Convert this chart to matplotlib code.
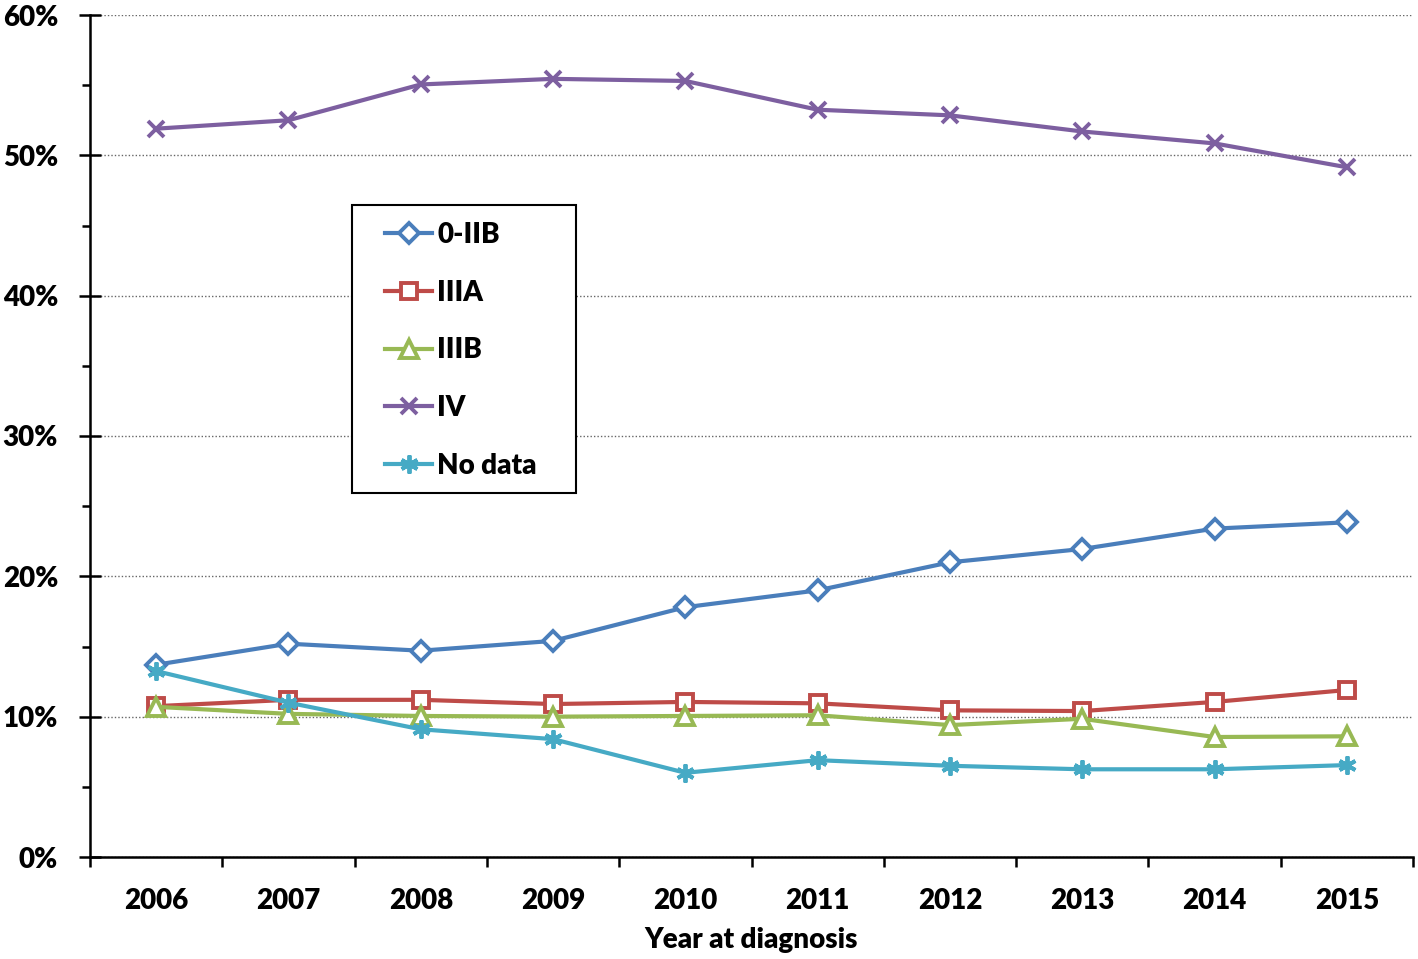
import matplotlib
matplotlib.use("Agg")
import matplotlib.pyplot as plt
from matplotlib.patches import Rectangle
from matplotlib.ticker import FuncFormatter, FixedLocator, MultipleLocator

plt.rcParams['font.family'] = ['Lato', 'DejaVu Sans']
plt.rcParams['font.weight'] = 'heavy'

years = ['2006', '2007', '2008', '2009', '2010', '2011', '2012', '2013', '2014', '2015']
stage_0_iib = [13.7, 15.2, 14.7, 15.4, 17.8, 19.0, 21.0, 21.95, 23.4, 23.85]
stage_iiia = [10.75, 11.2, 11.2, 10.9, 11.05, 10.95, 10.45, 10.4, 11.05, 11.9]
stage_iiib = [10.7, 10.2, 10.05, 10.0, 10.05, 10.1, 9.4, 9.85, 8.55, 8.6]
stage_iv = [51.9, 52.5, 55.05, 55.45, 55.3, 53.25, 52.85, 51.7, 50.85, 49.15]
no_data = [13.25, 11.0, 9.1, 8.4, 6.0, 6.9, 6.5, 6.25, 6.25, 6.55]

series = [
    ("0-IIB", stage_0_iib, '#4A7EBB', 'D', 10.5),
    ("IIIA", stage_iiia, '#BE4B48', 's', 11.5),
    ("IIIB", stage_iiib, '#98B954', '^', 12.5),
    ("IV", stage_iv, '#7D5FA0', 'x', 11.5),
    ("No data", no_data, '#46AAC5', (6, 2, 0), 13),
]

W, H = 1418, 959
fig = plt.figure(figsize=(W / 100, H / 100), dpi=100)
ax = fig.add_axes((90 / W, 1 - 857 / H, 1323 / W, 842 / H))

x = range(len(years))
for name, vals, col, mk, ms in series:
    filled = mk in ('x', (6, 2, 0))
    ax.plot(x, vals, color=col, lw=3.0, marker=mk, markersize=ms,
            markerfacecolor=col if filled else 'white', markeredgecolor=col,
            markeredgewidth=2.8, label=name, zorder=3)

ax.set_ylim(0, 60)
ax.set_xlim(-0.5, 9.5)
ax.set_yticks(range(0, 61, 10))
ax.yaxis.set_minor_locator(MultipleLocator(5))
ax.yaxis.set_major_formatter(FuncFormatter(lambda v, p: f"{int(v)}%"))
ax.yaxis.grid(True, linestyle=(0, (1, 1.5)), color='#666666', lw=1.0)
ax.set_axisbelow(True)

ax.set_xticks(list(x))
ax.set_xticklabels(years)
ax.xaxis.set_minor_locator(FixedLocator([i - 0.5 for i in range(11)]))
ax.tick_params(axis='x', which='major', length=0, pad=22, labelsize=20)
ax.tick_params(axis='x', which='minor', length=7, width=1.8, direction='out')
ax.tick_params(axis='y', which='major', length=16, width=1.8, direction='inout',
               labelsize=20, pad=15)
ax.tick_params(axis='y', which='minor', length=6, width=1.8, direction='out')

for s in ('top', 'right'):
    ax.spines[s].set_visible(False)
for s in ('left', 'bottom'):
    ax.spines[s].set_linewidth(1.8)

ax.set_xlabel("Year at diagnosis", fontsize=20, fontweight='heavy', labelpad=10)

# legend box drawn separately so the padding matches the original
box = Rectangle((262 / 1323, 364 / 842), 224 / 1323, 288 / 842, transform=ax.transAxes,
                facecolor='white', edgecolor='black', lw=1.5, clip_on=False, zorder=4)
ax.add_patch(box)
leg = ax.legend(loc='upper left', bbox_to_anchor=(295 / 1323, 635 / 842),
                frameon=False, fontsize=20, labelspacing=1.14, handlelength=1.7,
                handletextpad=0.18, borderpad=0, borderaxespad=0)
leg.set_zorder(5)

fig.savefig("out.png", dpi=100)
